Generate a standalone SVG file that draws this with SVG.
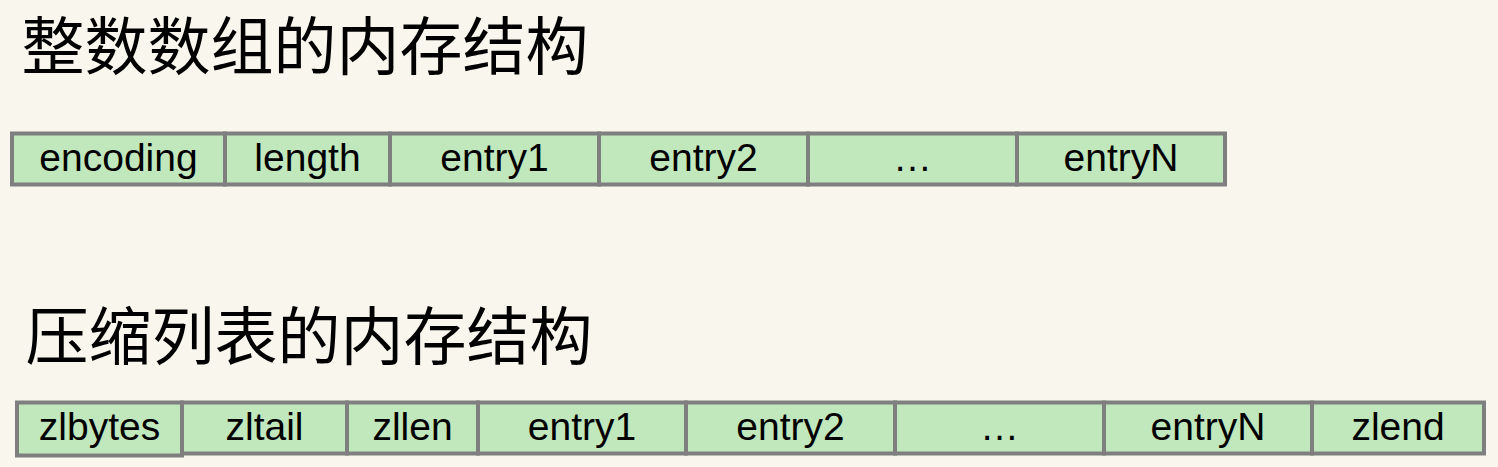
<svg xmlns="http://www.w3.org/2000/svg" width="1498" height="467" viewBox="0 0 1498 467">
<style>
.bg{fill:#f9f7ed}
.cell{fill:#c1e7bd;stroke:#7f7f7f;stroke-width:4}
.lbl{font-family:"Liberation Sans","Noto Sans",sans-serif;font-size:39px;fill:#000;text-anchor:middle}
.title{font-family:"Noto Sans CJK SC","Noto Sans",sans-serif;font-size:63px;fill:#000}
</style>
<rect class="bg" x="0" y="0" width="1498" height="467"/>
<text id="title1" class="title" x="21.5" y="69">整数数组的内存结构</text>
<text id="title2" class="title" x="25.5" y="359">压缩列表的内存结构</text>
<g id="intset">
<g id="i-encoding"><rect class="cell" x="12" y="133.5" width="213" height="51"/><text class="lbl" x="118.5" y="171">encoding</text></g>
<g id="i-length"><rect class="cell" x="225" y="133.5" width="165" height="51"/><text class="lbl" x="307.5" y="171">length</text></g>
<g id="i-entry1"><rect class="cell" x="390" y="133.5" width="209" height="51"/><text class="lbl" x="494.5" y="171">entry1</text></g>
<g id="i-entry2"><rect class="cell" x="599" y="133.5" width="209" height="51"/><text class="lbl" x="703.5" y="171">entry2</text></g>
<g id="i-dots"><rect class="cell" x="808" y="133.5" width="209" height="51"/><text class="lbl" x="912.5" y="171">…</text></g>
<g id="i-entryN"><rect class="cell" x="1017" y="133.5" width="208" height="51"/><text class="lbl" x="1121" y="171">entryN</text></g>
</g>
<g id="ziplist">
<g id="z-zltail"><rect class="cell" x="182" y="402.5" width="165" height="51"/><text class="lbl" x="264.5" y="440">zltail</text></g>
<g id="z-zllen"><rect class="cell" x="347" y="402.5" width="131" height="51"/><text class="lbl" x="412.5" y="440">zllen</text></g>
<g id="z-entry1"><rect class="cell" x="478" y="402.5" width="208" height="51"/><text class="lbl" x="582" y="440">entry1</text></g>
<g id="z-entry2"><rect class="cell" x="686" y="402.5" width="209" height="51"/><text class="lbl" x="790.5" y="440">entry2</text></g>
<g id="z-dots"><rect class="cell" x="895" y="402.5" width="209" height="51"/><text class="lbl" x="999.5" y="440">…</text></g>
<g id="z-entryN"><rect class="cell" x="1104" y="402.5" width="208" height="51"/><text class="lbl" x="1208" y="440">entryN</text></g>
<g id="z-zlend"><rect class="cell" x="1312" y="402.5" width="172" height="51"/><text class="lbl" x="1398" y="440">zlend</text></g>
<g id="z-zlbytes"><rect class="cell" x="17" y="402.5" width="165" height="53"/><text class="lbl" x="99.5" y="440">zlbytes</text></g>
</g>
<g id="connectors"/>
</svg>
